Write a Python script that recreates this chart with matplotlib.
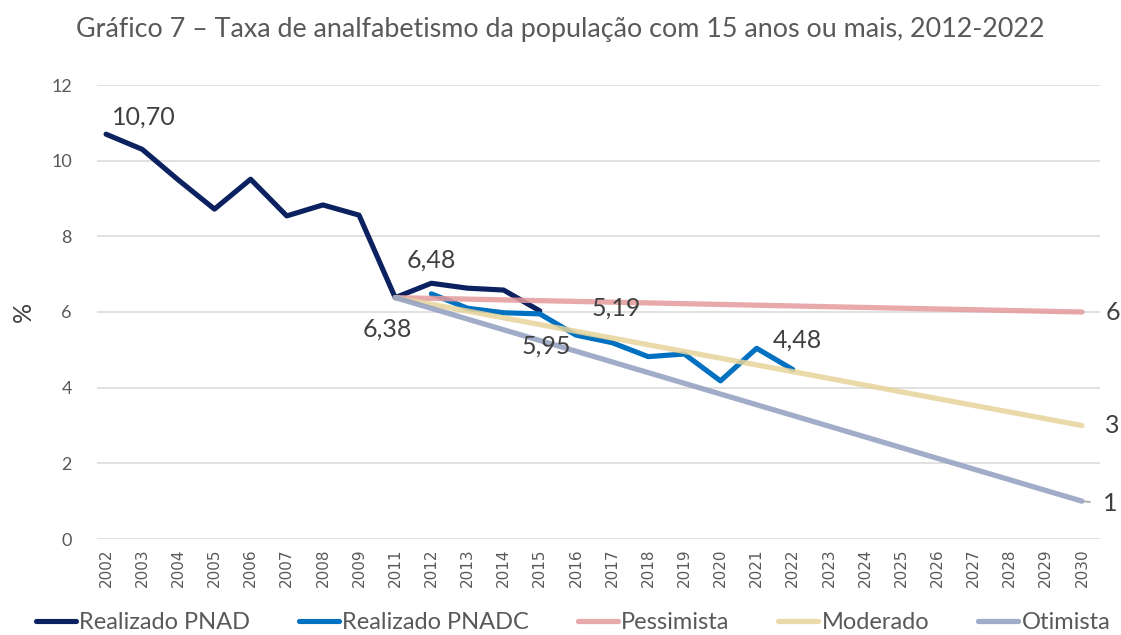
import matplotlib
matplotlib.use("Agg")
import matplotlib.pyplot as plt

plt.rcParams['font.family'] = ['Lato', 'DejaVu Sans']

# categorias do eixo x (2010 nao aparece no grafico)
anos = ["2002", "2003", "2004", "2005", "2006", "2007", "2008", "2009",
        "2011", "2012", "2013", "2014", "2015", "2016", "2017", "2018",
        "2019", "2020", "2021", "2022", "2023", "2024", "2025", "2026",
        "2027", "2028", "2029", "2030"]

anos_pnad = ["2002", "2003", "2004", "2005", "2006", "2007", "2008", "2009",
             "2011", "2012", "2013", "2014", "2015"]
pnad = [10.70, 10.30, 9.49, 8.72, 9.51, 8.54, 8.83, 8.56,
        6.38, 6.76, 6.63, 6.58, 6.03]

anos_pnadc = ["2012", "2013", "2014", "2015", "2016", "2017", "2018",
              "2019", "2020", "2021", "2022"]
pnadc = [6.48, 6.10, 5.98, 5.95, 5.39, 5.19, 4.82, 4.89, 4.18, 5.04, 4.48]

# projecoes: retas de 2011 ate 2030
anos_proj = ["2011", "2030"]
pessimista = [6.38, 6.0]
moderado = [6.38, 3.0]
otimista = [6.38, 1.0]

titulo = "Gráfico 7 – Taxa de analfabetismo da população com 15 anos ou mais, 2012-2022"


def main():
    idx = {a: i for i, a in enumerate(anos)}

    fig = plt.figure(figsize=(11.21, 6.35), dpi=100)
    ax = fig.add_axes([97 / 1121, 1 - 539 / 635, (1100 - 97) / 1121, (539 - 85) / 635])

    c_pnad = "#0c2260"
    c_pnadc = "#0070c0"
    c_pes = "#e59a9c"
    c_mod = "#e8d49a"
    c_oti = "#97a3c2"

    ax.plot([idx[a] for a in anos_pnad], pnad, color=c_pnad, lw=3.7,
            solid_joinstyle="round", solid_capstyle="round", label="Realizado PNAD", zorder=3)
    ax.plot([idx[a] for a in anos_pnadc], pnadc, color=c_pnadc, lw=3.7,
            solid_joinstyle="round", solid_capstyle="round", label="Realizado PNADC", zorder=4)
    ax.plot([idx[a] for a in anos_proj], pessimista, color=c_pes, lw=3.8, alpha=0.85,
            solid_capstyle="round", label="Pessimista", zorder=5)
    ax.plot([idx[a] for a in anos_proj], moderado, color=c_mod, lw=3.8, alpha=0.85,
            solid_capstyle="round", label="Moderado", zorder=5)
    ax.plot([idx[a] for a in anos_proj], otimista, color=c_oti, lw=3.8, alpha=0.9,
            solid_capstyle="round", label="Otimista", zorder=5)

    # rotulos de dados ficam por cima das linhas
    lab = dict(fontsize=18, color="#404040", ha="center", va="center",
               textcoords="offset points", zorder=7)
    ax.annotate("10,70", (idx["2002"], pnad[0]), xytext=(27, 12), **lab)
    ax.annotate("6,48", (idx["2012"], pnadc[0]), xytext=(0, 24), **lab)
    ax.annotate("6,38", (idx["2011"], pnad[8]), xytext=(-6, -23), **lab)
    ax.annotate("5,95", (idx["2015"], pnadc[3]), xytext=(5, -23), **lab)
    ax.annotate("5,19", (idx["2017"], pnadc[5]), xytext=(3, 25), **lab)
    ax.annotate("4,48", (idx["2022"], pnadc[-1]), xytext=(3, 21), **lab)
    ax.annotate("6", (idx["2030"], pessimista[-1]), xytext=(22, 0), **lab)
    ax.annotate("3", (idx["2030"], moderado[-1]), xytext=(22, 0), **lab)
    ax.annotate("1", (idx["2030"], otimista[-1]), xytext=(20, -2), **lab,
                arrowprops=dict(arrowstyle="-", color="#a6a6a6", lw=1.2,
                                shrinkA=7, shrinkB=2))

    ax.set_xlim(-0.25, len(anos) - 0.5)
    ax.set_ylim(0, 12)
    ax.set_yticks(range(0, 13, 2))
    ax.set_xticks(range(len(anos)))
    ax.set_xticklabels(anos, rotation=90, fontsize=11, color="#595959",
                       family="DejaVu Sans")
    ax.tick_params(axis="x", length=0, pad=7)
    ax.tick_params(axis="y", length=0, pad=18, labelsize=13, labelcolor="#595959")
    ax.grid(axis="y", color="#d9d9d9", lw=1.1)
    ax.set_axisbelow(True)
    for s in ax.spines.values():
        s.set_visible(False)
    ax.set_ylabel("%", fontsize=18, color="#404040", labelpad=12)

    fig.text(0.5, 1 - 30 / 635, titulo, ha="center", va="center",
             fontsize=19.4, color="#595959")

    fig.legend(loc="lower center", bbox_to_anchor=(0.511, -0.03), ncol=5,
               frameon=False, fontsize=17, handlelength=1.7, handletextpad=0.15,
               columnspacing=2.05, labelcolor="#595959")

    fig.savefig("out.png", dpi=100)
    plt.close(fig)


if __name__ == "__main__":
    main()
